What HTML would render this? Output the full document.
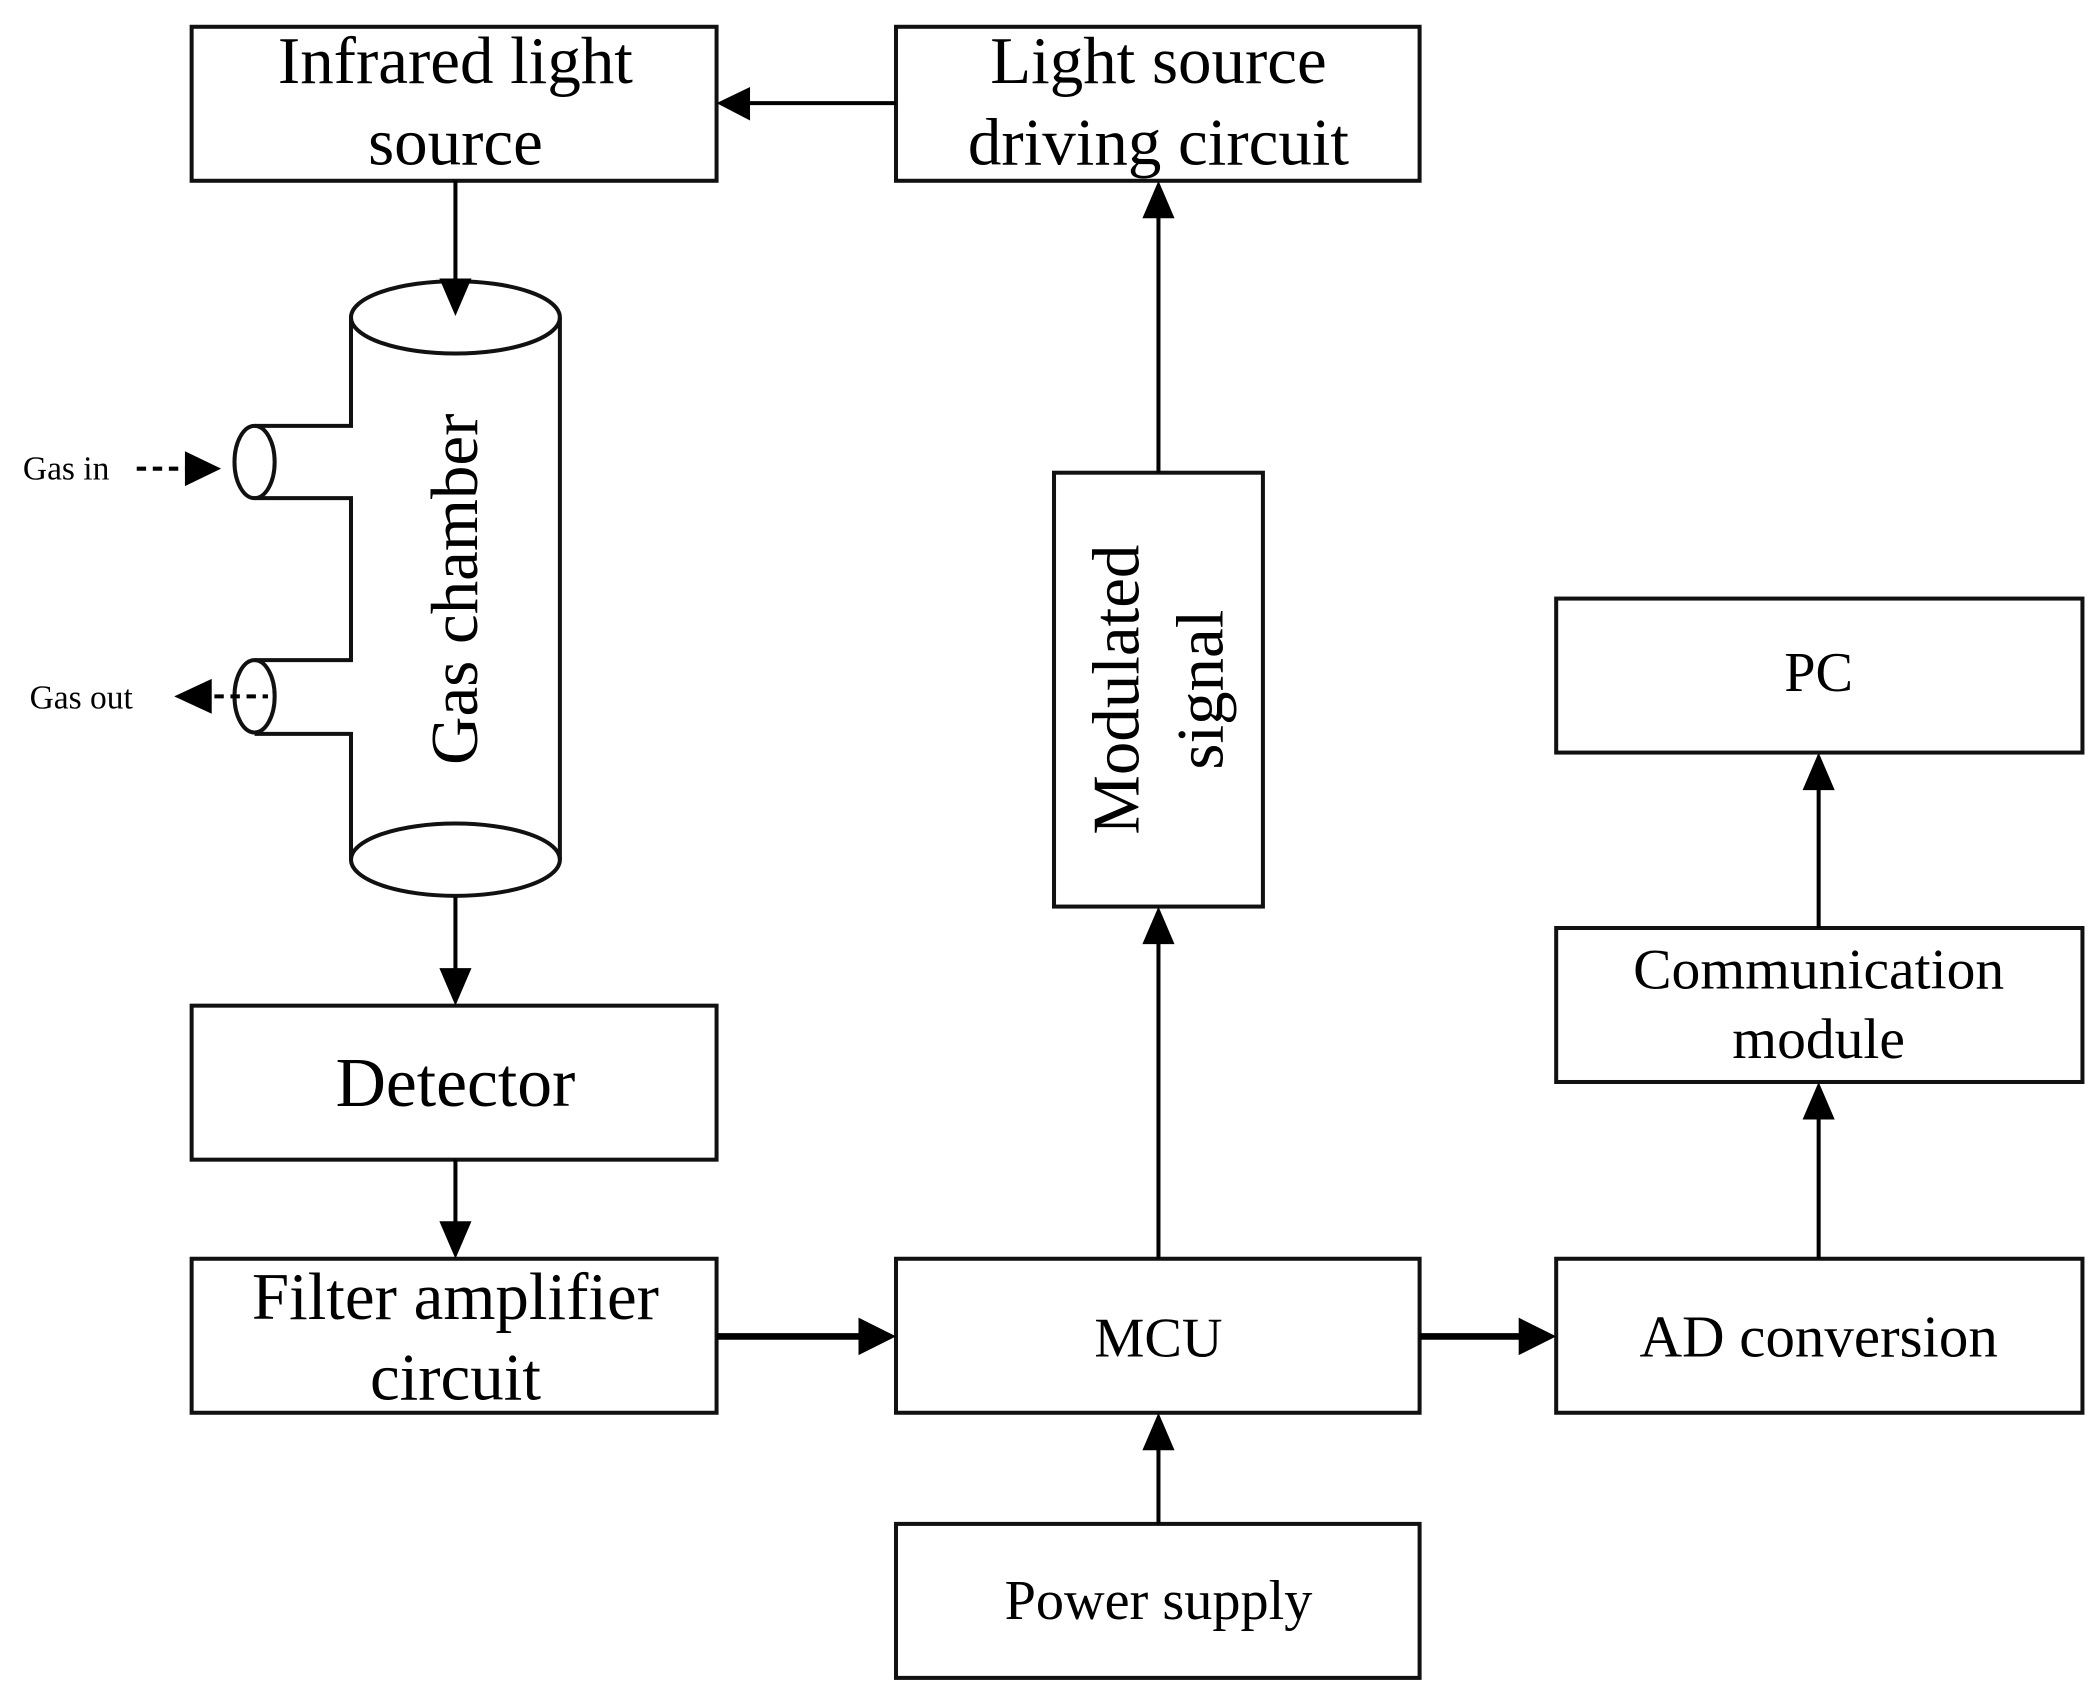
<!DOCTYPE html>
<html><head><meta charset="utf-8"><style>
html,body{margin:0;padding:0;background:#fff}
svg{display:block}
text{font-family:"Liberation Serif",serif;fill:#000}
</style></head><body>
<svg width="2100" height="1702" viewBox="0 0 1568 1271" xmlns="http://www.w3.org/2000/svg">
<g fill="none" stroke="#111" stroke-width="3">
<rect x="143" y="20" width="392" height="115"/>
<rect x="669" y="20" width="391" height="115"/>
<rect x="143" y="751" width="392" height="115"/>
<rect x="143" y="940" width="392" height="115"/>
<rect x="669" y="940" width="391" height="115"/>
<rect x="1162" y="940" width="393" height="115"/>
<rect x="669" y="1138" width="391" height="115"/>
<rect x="787" y="353" width="156" height="324"/>
<rect x="1162" y="693" width="393" height="115"/>
<rect x="1162" y="447" width="393" height="115"/>
<ellipse cx="340" cy="237" rx="78" ry="27"/>
<ellipse cx="340" cy="642" rx="78" ry="27"/>
<path d="M262,237 V318 H190 M190,372 H262 V493 H190 M190,548 H262 V642"/>
<path d="M418,237 V642"/>
<ellipse cx="190" cy="345" rx="15" ry="27"/>
<ellipse cx="190" cy="520" rx="15" ry="27"/>
</g>
<g stroke="#000" stroke-width="3" fill="none">
<path d="M669,77 H558"/>
<path d="M340,135 V212"/>
<path d="M340,670 V727"/>
<path d="M340,866 V917"/>
<path d="M535,998 H646" stroke-width="5"/>
<path d="M1060,998 H1139" stroke-width="5"/>
<path d="M865,1138 V1080"/>
<path d="M865,940 V700"/>
<path d="M865,353 V158"/>
<path d="M1358,940 V831"/>
<path d="M1358,693 V585"/>
<path d="M102,350 H140" stroke-dasharray="7,5"/>
<path d="M160,520 H200" stroke-dasharray="7,5"/>
</g>
<g fill="#000">
<path d="M535,77 L560,65 L560,90z"/>
<path d="M340,236 L328,208 L352,208z"/>
<path d="M340,751 L328,723 L352,723z"/>
<path d="M340,940 L328,912 L352,912z"/>
<path d="M669,998 L641,984 L641,1012z"/>
<path d="M1162,998 L1134,984 L1134,1012z"/>
<path d="M865,1055 L853,1083 L877,1083z"/>
<path d="M865,677 L853,705 L877,705z"/>
<path d="M865,135 L853,163 L877,163z"/>
<path d="M1358,808 L1346,836 L1370,836z"/>
<path d="M1358,562 L1346,590 L1370,590z"/>
<path d="M165,350 L138,337 L138,363z"/>
<path d="M130,520 L158,507 L158,533z"/>
</g>
<g text-anchor="middle" font-size="50">
<text x="340" y="62">Infrared light</text>
<text x="340" y="123">source</text>
<text x="865" y="62">Light source</text>
<text x="865" y="123">driving circuit</text>
<text x="340" y="826" font-size="52">Detector</text>
<text x="340" y="985">Filter amplifier</text>
<text x="340" y="1045">circuit</text>
<text x="865" y="1013" font-size="42">MCU</text>
<text x="1358" y="1013" font-size="44">AD conversion</text>
<text x="865" y="1209" font-size="42">Power supply</text>
<text x="1358" y="738" font-size="43">Communication</text>
<text x="1358" y="790" font-size="43">module</text>
<text x="1358" y="516" font-size="42">PC</text>
<text transform="translate(356,440) rotate(-90)">Gas chamber</text>
<text transform="translate(850,515) rotate(-90)">Modulated</text>
<text transform="translate(913,515) rotate(-90)">signal</text>
</g>
<text x="17" y="358" font-size="25">Gas in</text>
<text x="22" y="529" font-size="25">Gas out</text>
</svg>
</body></html>
